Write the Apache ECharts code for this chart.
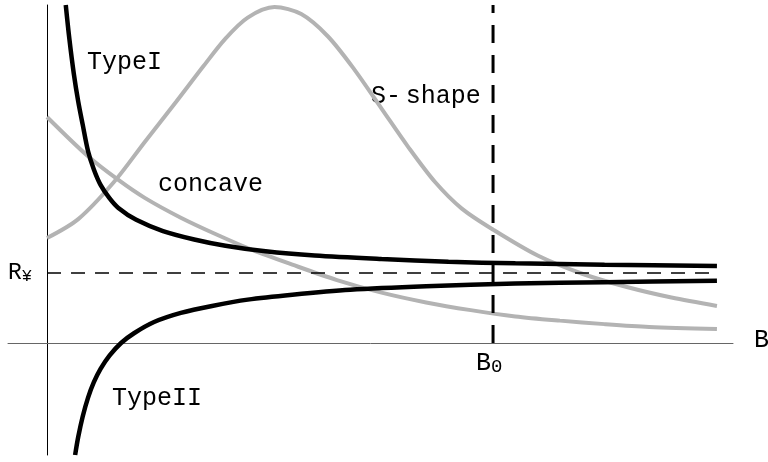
<!DOCTYPE html>
<html>
<head>
<meta charset="utf-8">
<script src="https://cdn.jsdelivr.net/npm/echarts@6/dist/echarts.min.js"></script>
<style>html,body{margin:0;padding:0;background:#fff}#c{width:768px;height:462px}</style>
</head>
<body>
<div id="c"></div>
<script>
// Curves: [B, R]
var typeI = [[0.42,4.83],[0.50,4.35],[0.60,3.85],[0.70,3.45],[0.80,3.12],[0.92,2.74],[1.05,2.48],[1.20,2.26],[1.40,2.07],[1.60,1.93],[2.0,1.76],[2.6,1.60],[3.3,1.48],[4.0,1.39],[4.9,1.31],[6.0,1.25],[7.5,1.20],[9.0,1.16],[10.5,1.14],[12.5,1.12],[15.02,1.10]];
var typeII = [[0.63,-1.60],[0.70,-1.34],[0.80,-1.05],[0.92,-0.78],[1.05,-0.56],[1.20,-0.37],[1.40,-0.18],[1.66,0],[1.95,0.14],[2.4,0.30],[3.0,0.43],[3.7,0.53],[4.5,0.62],[5.5,0.69],[6.8,0.76],[8.5,0.81],[10.5,0.85],[12.5,0.87],[15.02,0.89]];
var concave = [[0,3.23],[0.9,2.68],[1.6,2.33],[2.2,2.07],[3.0,1.79],[3.8,1.55],[4.6,1.33],[5.5,1.12],[6.5,0.90],[7.5,0.72],[8.5,0.58],[9.5,0.47],[10.5,0.38],[11.5,0.32],[12.5,0.27],[13.5,0.23],[15.02,0.20]];
var sShape = [[0,1.50],[0.7,1.77],[1.5,2.30],[2.2,2.88],[2.9,3.45],[3.5,3.95],[4.0,4.35],[4.5,4.65],[5.1,4.80],[5.7,4.70],[6.3,4.38],[6.9,3.90],[7.5,3.35],[8.1,2.80],[8.7,2.30],[9.3,1.92],[10,1.62],[11,1.25],[12,0.99],[13,0.80],[14,0.65],[15.02,0.53]];
var rInf = 1;
var B0 = 10;
var xEnd = 15.02;
var xMin = -0.875, xMax = 15.38, yMin = -1.6, yMax = 4.83;

var chart = echarts.init(document.getElementById('c'));
var mono = "'Liberation Mono', 'DejaVu Sans Mono', monospace";
var gray = '#b3b3b3';
function curve(data, color, width) {
  return {type:'line', data:data, smooth:0.3, symbol:'none', silent:true,
    lineStyle:{color:color, width:width}};
}
chart.setOption({
  animation:false,
  grid:{left:8, right:35, top:5, bottom:7},
  xAxis:{type:'value', min:xMin, max:xMax,
    axisLine:{onZero:true, lineStyle:{color:'#666', width:1}},
    axisTick:{show:false}, axisLabel:{show:false}, splitLine:{show:false}},
  yAxis:{type:'value', min:yMin, max:yMax,
    axisLine:{show:true, onZero:true, lineStyle:{color:'#000', width:1}},
    axisTick:{show:false}, axisLabel:{show:false}, splitLine:{show:false}},
  series:[
    curve(concave, gray, 4),
    curve(sShape, gray, 4),
    {type:'line', data:[[0,rInf],[xEnd,rInf]], symbol:'none', silent:true,
      lineStyle:{color:'#000', width:1.5, type:[14,10]}},
    {type:'line', data:[[B0,0],[B0,yMax]], symbol:'none', silent:true,
      lineStyle:{color:'#000', width:3, type:[18,12]}},
    curve(typeI, '#000', 4.5),
    curve(typeII, '#000', 4.5)
  ],
  graphic:[
    {type:'text', x:87, y:62, style:{text:'TypeI', fontFamily:mono, fontSize:25, fill:'#000', align:'left', verticalAlign:'middle'}},
    {type:'text', x:158, y:184, style:{text:'concave', fontFamily:mono, fontSize:25, fill:'#000', align:'left', verticalAlign:'middle'}},
    {type:'text', x:371, y:96, style:{text:'{n|S-}{s| }{n|shape}', fill:'#000', align:'left', verticalAlign:'middle',
      rich:{n:{fontFamily:mono, fontSize:25}, s:{fontFamily:mono, fontSize:8}}}},
    {type:'text', x:112, y:398, style:{text:'TypeII', fontFamily:mono, fontSize:25, fill:'#000', align:'left', verticalAlign:'middle'}},
    {type:'text', x:8, y:273, style:{text:'{n|R}{s|¥}', fill:'#000', align:'left', verticalAlign:'middle',
      rich:{n:{fontFamily:mono, fontSize:23}, s:{fontFamily:mono, fontSize:17, padding:[6,0,0,0]}}}},
    {type:'text', x:476, y:363, style:{text:'{n|B}{s|0}', fill:'#000', align:'left', verticalAlign:'middle',
      rich:{n:{fontFamily:mono, fontSize:25}, s:{fontFamily:mono, fontSize:19, padding:[8,0,0,0]}}}},
    {type:'text', x:754, y:340, style:{text:'B', fontFamily:mono, fontSize:25, fill:'#000', align:'left', verticalAlign:'middle'}}
  ]
});
</script>
</body>
</html>
